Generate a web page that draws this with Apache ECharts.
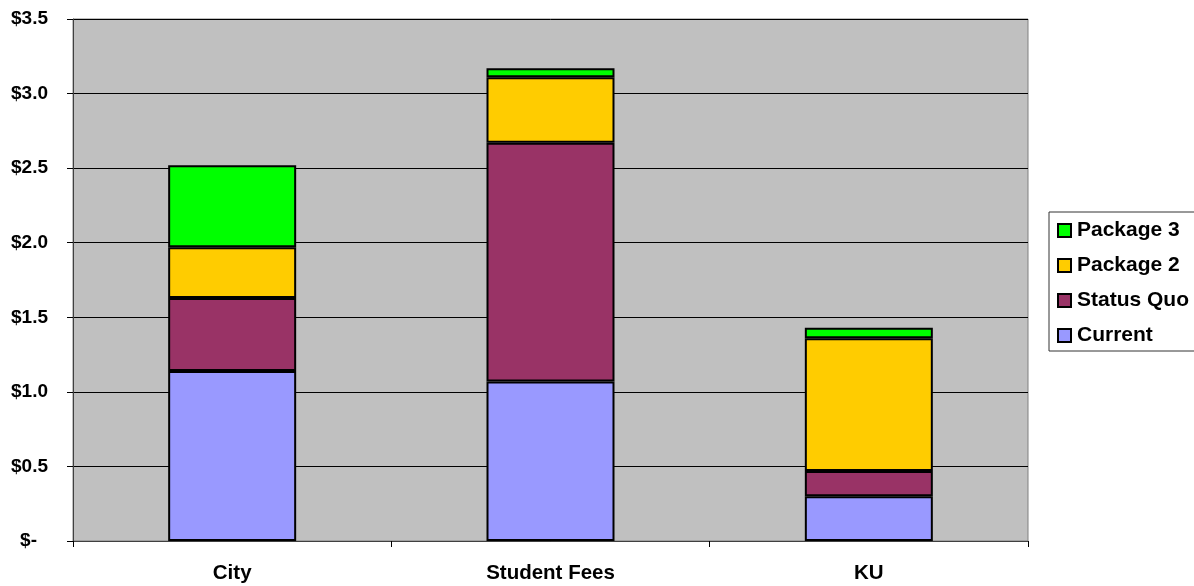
<!DOCTYPE html>
<html>
<head>
<meta charset="utf-8">
<script src="https://cdn.jsdelivr.net/npm/echarts@6/dist/echarts.min.js"></script>
<style>
html,body{margin:0;padding:0;background:#fff;}
#chart{width:1194px;height:586px;}
</style>
</head>
<body>
<div id="chart"></div>
<script>
var categories = ['City', 'Student Fees', 'KU'];
var current = [1.14, 1.07, 0.30];
var statusQuo = [0.49, 1.60, 0.17];
var package2 = [0.34, 0.44, 0.89];
var package3 = [0.55, 0.06, 0.07];
var yTicks = [0, 0.5, 1.0, 1.5, 2.0, 2.5, 3.0, 3.5];

var FONT = '"Liberation Sans", Arial, sans-serif';
var chart = echarts.init(document.getElementById('chart'));

function bar(name, data, color) {
  return {
    name: name, type: 'bar', stack: 'total', data: data, barWidth: 128,
    itemStyle: { color: color, borderColor: '#000', borderWidth: 2 },
    emphasis: { disabled: true }
  };
}

chart.setOption({
  animation: false,
  backgroundColor: '#ffffff',
  grid: {
    left: 73, right: 166, top: 19, bottom: 45,
    show: true, backgroundColor: '#C0C0C0', borderColor: '#808080', borderWidth: 1
  },
  legend: {
    orient: 'vertical', left: 1049, top: 212,
    data: ['Package 3', 'Package 2', 'Status Quo', 'Current'],
    icon: 'rect', itemWidth: 13, itemHeight: 13, itemGap: 14,
    padding: [8, 60, 5, 8],
    borderColor: '#333', borderWidth: 1, backgroundColor: '#fff',
    itemStyle: { borderColor: '#000', borderWidth: 2 },
    textStyle: { fontFamily: FONT, fontWeight: 'bold', fontSize: 21, color: '#000', lineHeight: 20, padding: [0, 0, 0, 1] }
  },
  xAxis: {
    type: 'category', data: categories,
    axisLine: { lineStyle: { color: '#404040', width: 1 } },
    axisTick: { show: true, alignWithLabel: false, length: 6, lineStyle: { color: '#000' } },
    axisLabel: { margin: 22, fontFamily: FONT, fontWeight: 'bold', fontSize: 20.5, color: '#000' }
  },
  yAxis: {
    type: 'value', min: 0, max: 3.5, interval: 0.5,
    axisLine: { show: true, lineStyle: { color: '#404040', width: 1 } },
    axisTick: { show: true, length: 6, lineStyle: { color: '#000' } },
    splitLine: { show: true, lineStyle: { color: '#000', width: 1 } },
    axisLabel: {
      margin: 25, fontFamily: FONT, fontWeight: 'bold', fontSize: 19, color: '#000',
      formatter: function (v) {
        if (yTicks.indexOf(v) < 0) return '';
        return v === 0 ? '{z|$-}' : '$' + v.toFixed(1);
      },
      rich: { z: { fontFamily: FONT, fontWeight: 'bold', fontSize: 19, color: '#000', padding: [0, 11, 0, 0] } }
    }
  },
  series: [
    bar('Current', current, '#9999FF'),
    bar('Status Quo', statusQuo, '#993366'),
    bar('Package 2', package2, '#FFCC00'),
    bar('Package 3', package3, '#00FF00')
  ]
});
</script>
</body>
</html>
